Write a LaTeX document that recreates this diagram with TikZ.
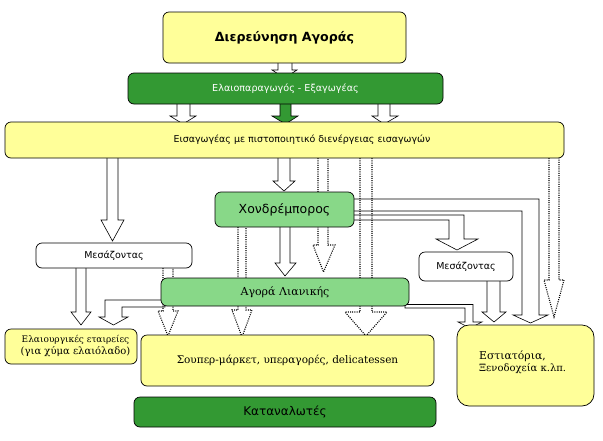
\documentclass[tikz,border=0pt]{standalone}
\usepackage{fontspec}
\setmainfont{DejaVu Serif}
\setsansfont{DejaVu Sans}
\newfontfamily\sansf{DejaVu Sans}
\newfontfamily\serf{DejaVu Serif}
\definecolor{yel}{HTML}{FFFF99}
\definecolor{lgreen}{HTML}{88D888}
\definecolor{dgreen}{HTML}{339933}
\newcommand\dnarrow[9]{\path[#1] (#2,#4) -- (#2,#5) -- (#6,#5) -- (#8,#9) -- (#7,#5) -- (#3,#5) -- (#3,#4) -- cycle;}
\newcommand\dotarrow[8]{\draw[darrow] (#1,#3) -- (#1,#4) -- (#5,#4) -- (#7,#8) -- (#6,#4) -- (#2,#4) -- (#2,#3);}
\begin{document}
\begin{tikzpicture}[x=1pt,y=-1pt,
  box/.style={draw=black, line width=0.7pt, rounded corners=6pt, inner sep=0pt, align=center},
  ybox/.style={box, fill=yel},
  lgbox/.style={box, fill=lgreen},
  dgbox/.style={box, fill=dgreen},
  wbox/.style={box, fill=white},
  barrow/.style={draw=black, line width=0.6pt, fill=white},
  garrow/.style={draw=black, line width=0.6pt, fill=dgreen},
  darrow/.style={draw=black, line width=1.1pt, dash pattern=on 1pt off 1.2pt},
]
\useasboundingbox (0,0) rectangle (603,440);

% solid block arrows
\dnarrow{barrow}{278}{292}{60}{70}{272}{297}{284.5}{78}
\dnarrow{barrow}{177}{190}{100}{116}{170}{196}{183}{124}
\dnarrow{garrow}{280}{291}{100}{116}{272}{298}{285.5}{124}
\dnarrow{barrow}{378}{390}{100}{116}{372}{398}{384}{124}
\dnarrow{barrow}{107}{118}{155}{220}{101}{124}{112.5}{241}
\dnarrow{barrow}{278}{290}{155}{181}{273}{295}{284}{191}
\dnarrow{barrow}{280}{290}{224}{263}{275}{296}{285}{276}
\dnarrow{barrow}{76}{86}{265}{312}{71}{91}{81}{325}
\dnarrow{barrow}{487}{500}{278}{312}{482}{506}{494}{322}
% elbow block arrows
\path[barrow] (350,199) -- (539,199) -- (539,315) -- (548,315) -- (530.5,323)
  -- (513,315) -- (522,315) -- (522,211) -- (350,211) -- cycle;
\path[barrow] (350,215) -- (464,215) -- (464,239) -- (478,239) -- (457,250)
  -- (436,239) -- (449,239) -- (449,220) -- (350,220) -- cycle;
\path[barrow] (165,300) -- (105,300) -- (105,317) -- (99,317) -- (113.5,325)
  -- (128,317) -- (122,317) -- (122,307) -- (165,307) -- cycle;
\path[barrow] (405,304.5) -- (473,304.5) -- (473,322) -- (482,322) -- (470,328)
  -- (458,322) -- (465,322) -- (465,308) -- (405,308) -- cycle;

% dotted arrows
\dotarrow{318}{328}{156}{245}{313}{335}{323.5}{272}
\dotarrow{360}{372}{156}{312}{345}{387}{366}{336}
\dotarrow{549}{559}{156}{280}{544}{564}{554}{317}
\dotarrow{163}{173}{266}{311}{158}{178}{168}{336}
\dotarrow{238}{246}{225}{310}{232}{252}{242}{337}

% boxes
\node[ybox, minimum width=243pt, minimum height=51pt] (b1) at (284.5,37.5)
  {\sansf\bfseries\fontsize{12.6}{14}\selectfont Διερεύνηση Αγοράς};
\node[dgbox, minimum width=315pt, minimum height=31pt, text=white] (b2) at (285.5,88.5)
  {\sansf\fontsize{9.6}{11}\selectfont Ελαιοπαραγωγός - Εξαγωγέας};
\node[ybox, minimum width=559pt, minimum height=36pt] (b3) at (284.5,140) {};
\node[inner sep=0pt] (b3t) at (302,140)
  {\sansf\fontsize{9.45}{11}\selectfont Εισαγωγέας με πιστοποιητικό διενέργειας εισαγωγών};
\node[lgbox, minimum width=139pt, minimum height=35pt] (b4) at (284.5,209.5)
  {\sansf\fontsize{12.5}{14}\selectfont Χονδρέμπορος};
\node[wbox, minimum width=156pt, minimum height=25pt] (b5) at (114,255.5)
  {\sansf\fontsize{9.5}{11}\selectfont Μεσάζοντας};
\node[lgbox, minimum width=248pt, minimum height=28pt] (b6) at (285,292)
  {\serf\fontsize{11}{13}\selectfont Αγορά Λιανικής};
\node[wbox, minimum width=94pt, minimum height=29pt] (b7) at (466,266.5)
  {\sansf\fontsize{9.5}{11}\selectfont Μεσάζοντας};
\node[ybox, minimum width=132pt, minimum height=35pt] (b8) at (71,346.5) {};
\node[inner sep=0pt, align=center] (b8t) at (75.5,346.5)
  {\serf\fontsize{9}{12}\selectfont Ελαιουργικές εταιρείες\\(για χύμα ελαιόλαδο)};
\node[ybox, minimum width=293pt, minimum height=51pt] (b9) at (287.5,360.5)
  {\serf\fontsize{10.5}{13}\selectfont Σουπερ-μάρκετ, υπεραγορές, delicatessen};
\node[ybox, rounded corners=12pt, minimum width=137pt, minimum height=81pt] (b10) at (525.5,365.5) {};
\node[inner sep=0pt, align=left, anchor=west] (b10t) at (479,362.5)
  {\serf\fontsize{10.8}{20}\selectfont Εστιατόρια,\\Ξενοδοχεία κ.λπ.};
\node[dgbox, minimum width=302pt, minimum height=30pt] (b11) at (285,412)
  {\sansf\fontsize{12}{14}\selectfont Καταναλωτές};
\end{tikzpicture}
\end{document}
